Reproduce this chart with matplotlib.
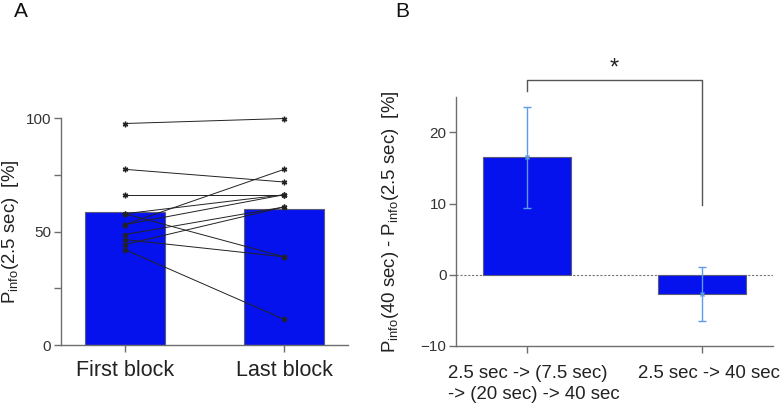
import numpy as np
import matplotlib
matplotlib.use("Agg")
import matplotlib.pyplot as plt
import matplotlib.transforms as mtransforms

plt.rcParams['font.family'] = ['Liberation Sans', 'DejaVu Sans']
plt.rcParams['mathtext.default'] = 'regular'

# panel A: per-subject P_info(2.5 sec) [%], first vs last block
blocks = ['First block', 'Last block']
block_means = [58.7, 60.0]
first_block = [97.7, 77.5, 66.3, 57.9, 57.9, 53.1, 53.1, 48.7, 46.5, 44.3, 42.1]
last_block = [99.9, 71.9, 66.3, 66.3, 38.9, 77.5, 66.3, 60.9, 38.9, 60.9, 11.3]

# panel B: difference P_info(40 sec) - P_info(2.5 sec)
conditions = ['2.5 sec -> (7.5 sec)\n-> (20 sec) -> 40 sec', '2.5 sec -> 40 sec']
diff_means = [16.5, -2.75]
diff_err = [7.1, 3.8]

bar_col = '#0612ee'
edge_col = '#5a5a7a'
spine_col = '#6e6e6e'
err_col = '#5b9be8'

fig = plt.figure(figsize=(7.81, 4.05), dpi=100)
axA = fig.add_axes([0.0781, 0.1481, 0.3675, 0.5598])
axB = fig.add_axes([0.5843, 0.1457, 0.4051, 0.6156])

for ax in (axA, axB):
    for s in ('top', 'right'):
        ax.spines[s].set_visible(False)
    for s in ('left', 'bottom'):
        ax.spines[s].set_color(spine_col)
        ax.spines[s].set_linewidth(1.0)
    ax.tick_params(axis='both', which='both', color=spine_col, direction='out', width=1.0)
    ax.tick_params(axis='y', labelsize=11, labelcolor='#333333', length=5, pad=2)
    ax.tick_params(axis='y', which='minor', length=5)
    ax.tick_params(axis='x', length=5, pad=6)

# ---- panel A
x = np.arange(len(blocks))
axA.bar(x, block_means, width=0.5, color=bar_col, edgecolor=edge_col, linewidth=0.8, zorder=1)
for a, b in zip(first_block, last_block):
    axA.plot(x, [a, b], color='#222222', linewidth=0.7, marker=(6, 2, 0), markersize=4,
             markeredgewidth=1.0, clip_on=False, zorder=3)
axA.set_xlim(-0.40, 1.40)
axA.set_ylim(0, 100)
axA.set_yticks([0, 50, 100])
axA.set_yticks([25, 75], minor=True)
axA.set_xticks(x)
axA.set_xticklabels(blocks, fontsize=15.5, color='#222222')
axA.set_ylabel('P$_{info}$(2.5 sec)  [%]', fontsize=13.4, color='#222222')
axA.yaxis.set_label_coords(-0.14, 0.5)
fig.text(0.0185, 0.995, 'A', fontsize=15, ha='left', va='top', color='#111111')

# ---- panel B
xb = np.arange(len(conditions))
axB.bar(xb, diff_means, width=0.5, color=bar_col, edgecolor=edge_col, linewidth=0.8, zorder=1)
axB.errorbar(xb, diff_means, yerr=diff_err, fmt='x', color=err_col, ecolor=err_col,
             elinewidth=1.0, capsize=3, capthick=1.0, markersize=3, zorder=3)
axB.axhline(0, color='#777777', linewidth=0.8, linestyle=(0, (2, 1.5)), zorder=0)
axB.set_xlim(-0.40, 1.40)
axB.set_ylim(-10, 25)
axB.set_yticks([-10, 0, 10, 20])
axB.set_xticks(xb)
axB.tick_params(axis='x', pad=9)
axB.set_xticklabels(conditions, fontsize=13.4, color='#222222', multialignment='left',
                    linespacing=1.25)
shift = mtransforms.ScaledTranslation(7 / 100, 0, fig.dpi_scale_trans)
for lbl in axB.get_xticklabels():
    lbl.set_transform(lbl.get_transform() + shift)
axB.set_ylabel('P$_{info}$(40 sec) - P$_{info}$(2.5 sec)  [%]', fontsize=13.4,
               color='#222222')
axB.yaxis.set_label_coords(-0.175, 0.5)

# significance bracket
axB.plot([xb[0], xb[0], xb[1], xb[1]], [25.8, 27.4, 27.4, 9.8], color='#555555',
         linewidth=1.0, clip_on=False)
axB.text((xb[0] + xb[1]) / 2, 29.0, '*', fontsize=17, ha='center', va='center',
         color='#222222')
fig.text(0.506, 0.995, 'B', fontsize=15, ha='left', va='top', color='#111111')

fig.savefig('out.png', dpi=100)
